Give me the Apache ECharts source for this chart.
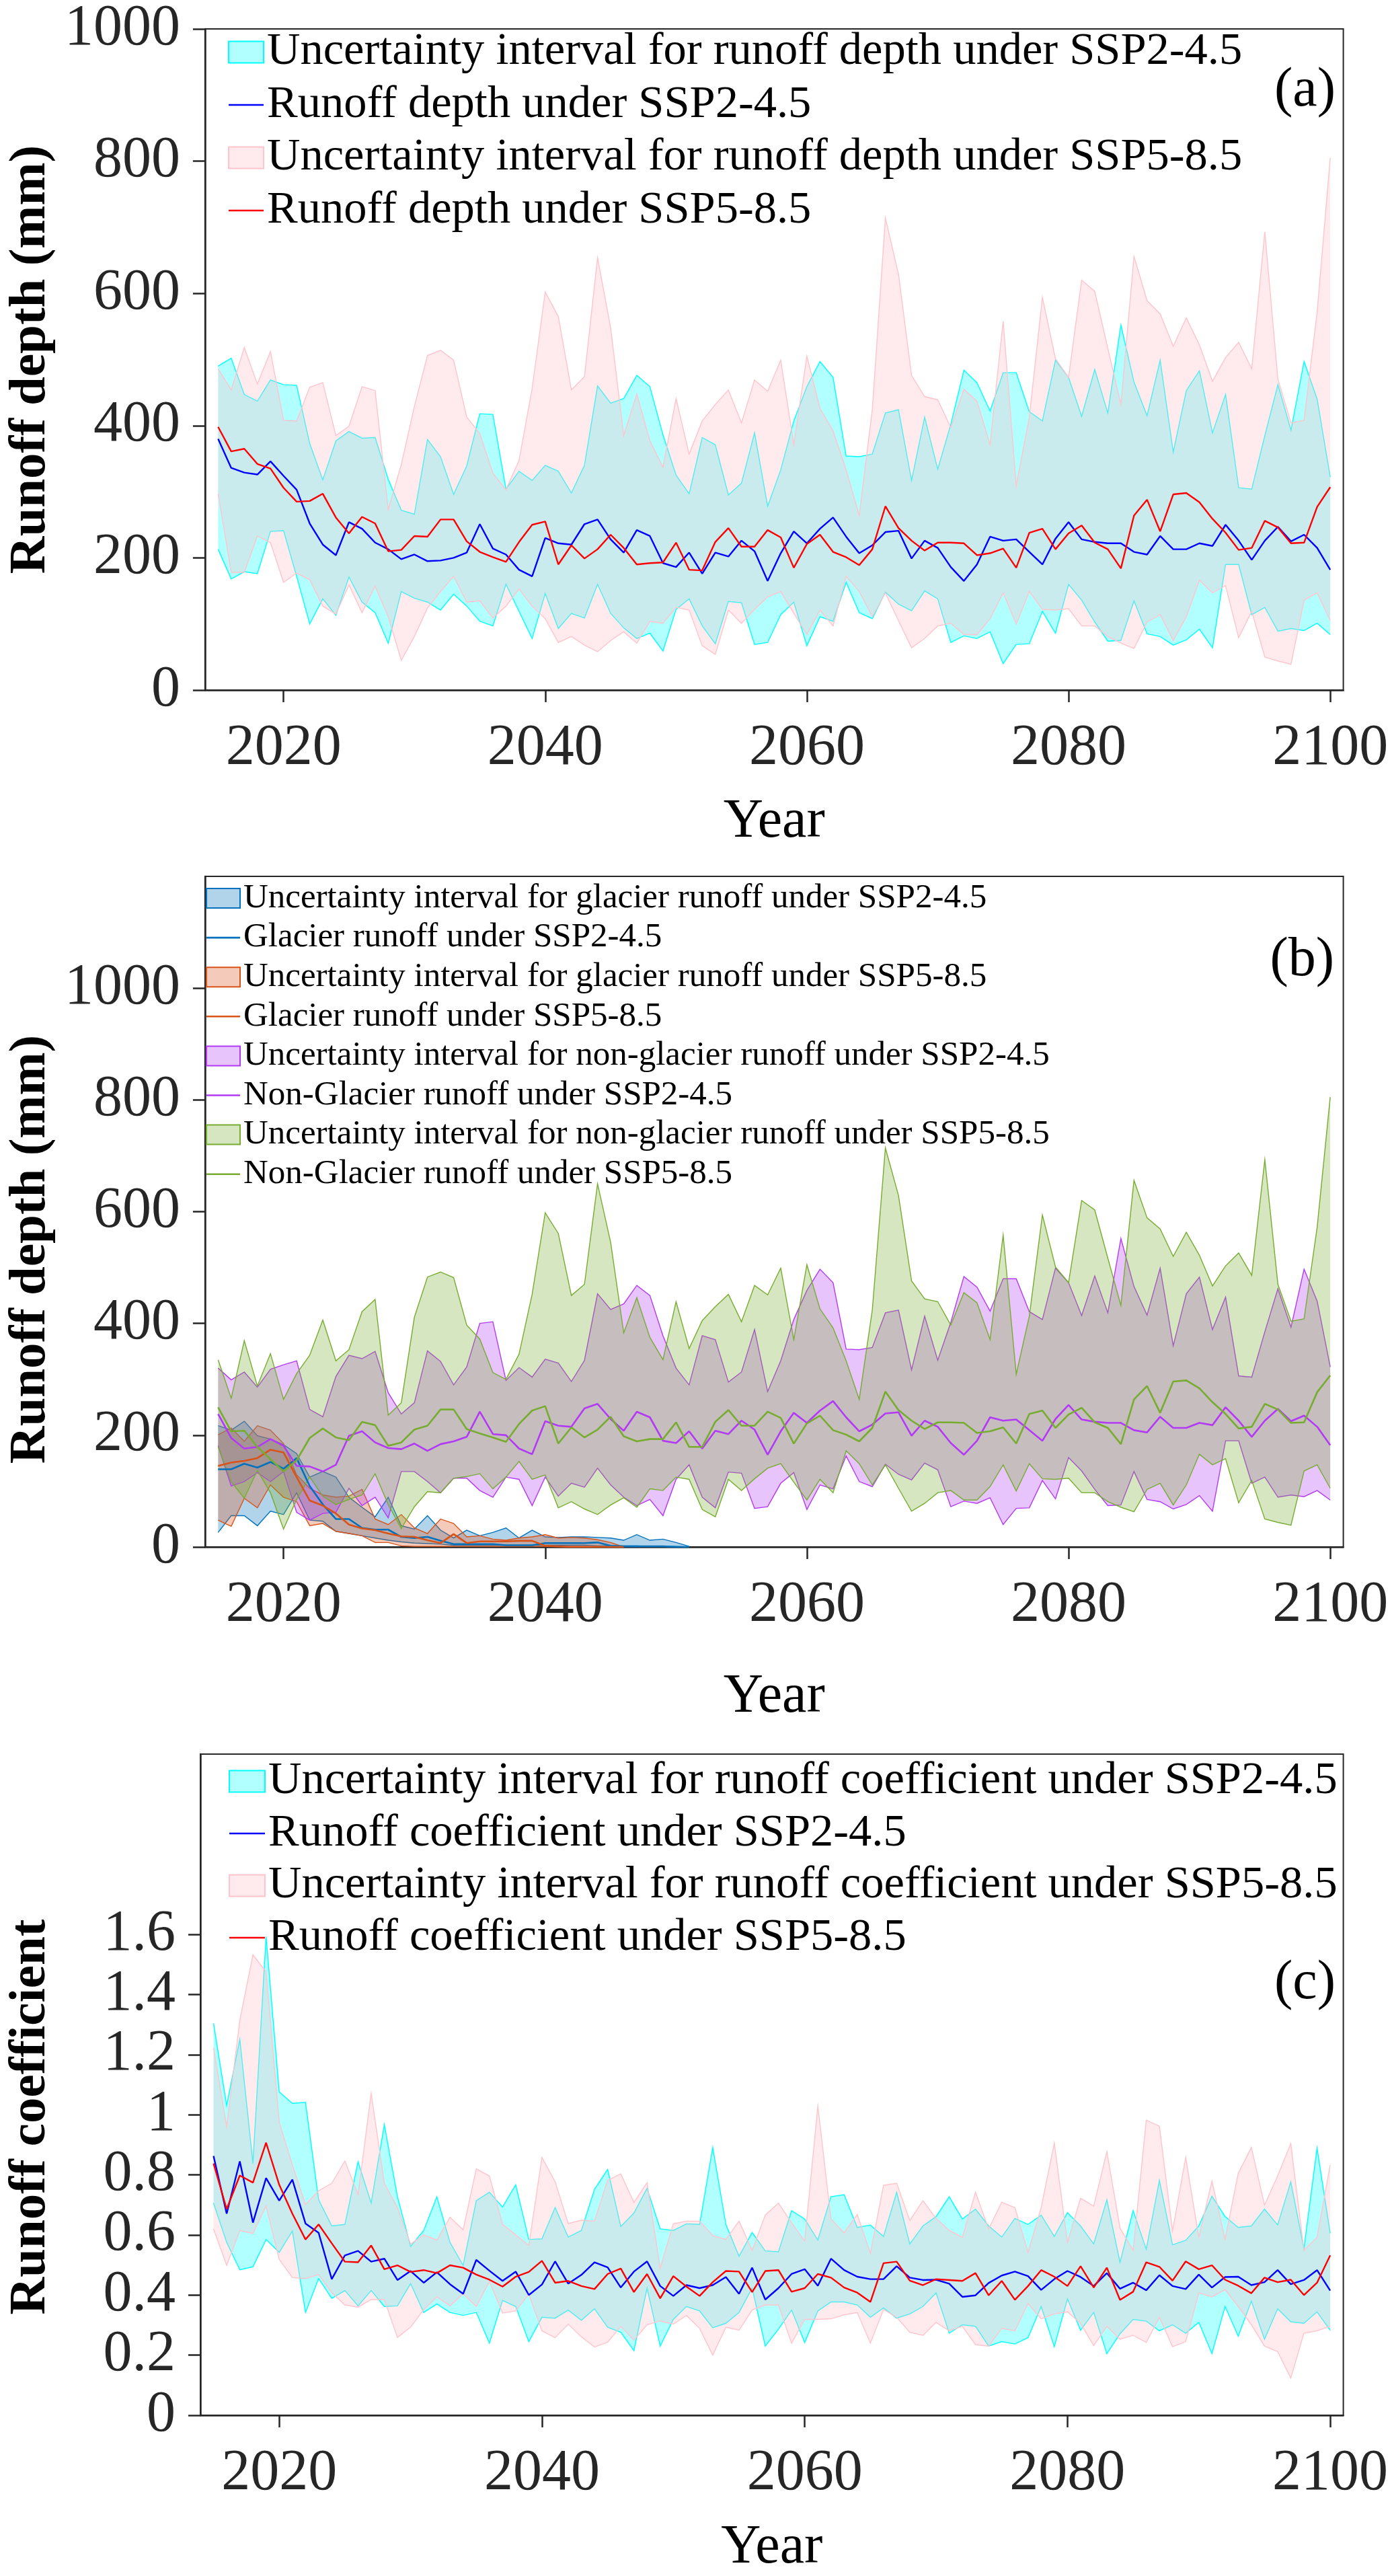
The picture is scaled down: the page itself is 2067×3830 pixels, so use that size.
<!DOCTYPE html>
<html><head><meta charset="utf-8">
<script src="https://cdn.jsdelivr.net/npm/echarts@6/dist/echarts.min.js"></script>
<style>html,body{margin:0;padding:0;background:#fff}#c{width:2067px;height:3830px}</style>
</head><body><div id="c"></div>
<script>
const years = [2015,2016,2017,2018,2019,2020,2021,2022,2023,2024,2025,2026,2027,2028,2029,2030,2031,2032,2033,2034,2035,2036,2037,2038,2039,2040,2041,2042,2043,2044,2045,2046,2047,2048,2049,2050,2051,2052,2053,2054,2055,2056,2057,2058,2059,2060,2061,2062,2063,2064,2065,2066,2067,2068,2069,2070,2071,2072,2073,2074,2075,2076,2077,2078,2079,2080,2081,2082,2083,2084,2085,2086,2087,2088,2089,2090,2091,2092,2093,2094,2095,2096,2097,2098,2099,2100];
const xTicks = [2020,2040,2060,2080,2100];
const yTicksA = [0,200,400,600,800,1000];
const yTicksB = [0,200,400,600,800,1000];
const yTicksC = [0,0.2,0.4,0.6,0.8,1,1.2,1.4,1.6];

// Panel (a): runoff depth (mm)
const aMean245 = [380,336,329,326,346,324,303,252,220,204,254,244,223,213,198,205,195,196,200,208,251,214,205,182,172,230,222,220,251,258,228,208,242,233,192,186,208,176,208,202,226,210,165,207,240,222,244,261,232,207,219,239,241,199,226,215,186,165,190,232,226,228,209,190,229,254,228,224,222,222,209,205,233,213,213,222,218,250,226,197,226,247,225,235,215,182];
const aUp245 = [490,502,447,437,469,462,461,373,318,377,391,381,382,319,272,266,379,353,296,339,418,417,304,331,317,340,331,298,340,460,434,441,476,459,386,325,297,382,371,295,313,389,278,333,407,459,497,473,354,353,357,419,424,317,413,334,402,484,465,422,480,480,421,407,499,473,414,485,419,552,466,415,499,360,453,483,389,447,306,304,385,462,393,497,440,322];
const aLo245 = [213,168,179,176,240,241,172,100,138,113,171,133,117,71,149,139,133,121,145,127,104,97,160,119,78,146,93,116,109,160,116,94,78,86,59,122,138,97,70,134,132,69,72,114,133,67,111,104,163,117,108,148,130,120,150,138,72,82,78,88,40,69,70,119,86,160,136,103,74,75,135,85,81,68,76,92,64,190,190,114,125,89,93,90,101,84];
const aMean585 = [398,361,365,342,335,306,285,286,297,261,237,262,252,210,212,233,232,258,258,225,209,201,194,224,250,255,190,219,199,213,235,215,190,192,193,223,182,181,224,245,217,217,242,231,185,221,235,209,201,189,213,278,245,226,211,223,223,222,204,207,214,185,238,244,213,237,249,223,213,184,264,288,240,296,298,284,259,238,212,215,256,246,222,223,277,307];
const aUp585 = [486,454,518,463,512,408,407,458,465,385,399,459,453,273,341,429,506,514,499,413,388,328,303,347,456,602,565,454,474,654,548,385,448,377,337,441,357,407,432,454,404,469,452,499,371,505,426,392,333,264,424,714,629,476,444,439,397,455,437,371,558,309,413,594,501,473,620,603,517,432,656,589,569,520,563,522,467,503,526,486,693,470,404,408,572,805];
const aLo585 = [297,178,178,233,223,163,177,167,127,115,159,117,157,111,45,81,124,149,172,133,135,109,127,153,127,108,72,81,68,58,75,88,71,104,101,125,121,67,54,121,101,122,141,149,116,84,121,97,172,149,111,147,105,64,78,97,101,84,84,108,147,100,149,122,121,123,97,97,81,71,63,103,114,75,111,166,147,158,79,119,50,44,39,136,147,105];

// Panel (b): glacier / non-glacier runoff (mm)
const bGlUp245 = [217,209,225,199,193,183,167,125,135,125,89,71,54,89,38,32,56,30,16,30,20,26,34,16,30,18,17,18,18,17,16,12,22,12,14,8,1];
const bGlLo245 = [26,56,56,38,64,58,97,48,46,28,24,20,16,12,9,7,6,5,3,3,3,3,3,3,3,3,3,3,3,2,2,2,2,1,1,1,0];
const bGl245   = [139,139,149,142,152,140,159,109,76,50,50,34,31,31,18,16,18,11,5,5,5,5,3,3,3,7,7,7,7,8,2,1,1,1,1,0,0];
const bGlUp585 = [201,213,189,217,209,185,129,105,93,89,91,103,50,40,58,34,24,50,42,18,20,14,12,16,18,22,16,17,16,13,8,0];
const bGlLo585 = [48,37,87,70,111,89,81,38,42,28,24,20,8,8,2,1,1,1,1,1,1,1,1,1,1,1,1,1,1,1,0,0];
const bGl585   = [145,151,154,159,174,169,125,83,74,60,40,33,30,24,19,18,12,7,23,7,10,10,10,11,11,2,1,0,0,0,0,0];
const bNg245   = [238,195,176,179,193,181,145,144,135,147,199,207,187,177,175,185,172,184,189,197,242,202,200,176,166,225,217,215,248,256,229,208,242,232,190,186,207,176,208,202,226,210,165,207,240,222,244,261,232,207,219,239,241,199,226,215,186,165,190,232,226,228,209,190,229,254,228,224,222,222,209,205,233,213,213,222,218,250,226,197,226,247,225,235,215,182];
const bNgUp245 = [320,299,313,286,318,326,333,246,233,305,343,337,350,276,238,258,351,332,290,322,400,403,298,321,304,336,329,296,334,453,425,435,468,450,378,320,290,378,371,295,313,389,278,333,407,459,497,473,354,353,357,419,424,317,413,334,402,484,465,422,480,480,421,407,499,473,414,485,419,552,466,415,499,360,453,483,389,447,306,304,385,462,393,497,440,322];
const bNgLo245 = [181,109,117,133,117,135,62,48,60,62,105,74,89,52,135,135,117,97,123,123,101,89,125,121,74,125,91,114,107,141,111,89,74,85,56,121,147,89,70,134,132,69,72,114,133,67,111,104,163,117,108,148,130,120,150,138,72,82,78,88,40,69,70,119,86,160,136,103,74,75,135,85,81,68,76,92,64,190,190,114,125,89,93,90,101,84];
const bNg585   = [250,207,208,179,157,135,155,195,212,196,191,224,218,181,187,210,217,246,246,211,203,196,188,220,244,252,185,214,196,210,233,198,189,193,193,223,179,179,224,245,217,217,242,231,185,221,235,209,201,189,213,278,245,226,211,223,223,222,204,207,214,185,238,244,213,237,249,223,213,184,264,288,240,296,298,284,259,238,212,215,256,246,222,223,277,307];
const bNgUp585 = [335,266,369,288,346,264,310,343,406,333,353,421,443,236,258,411,483,492,482,397,372,312,300,345,452,598,561,450,470,650,545,383,446,375,335,439,355,405,430,452,403,468,451,499,371,505,426,392,333,264,424,714,629,476,444,439,397,455,437,371,558,309,413,594,501,473,620,603,517,432,656,589,569,520,563,522,467,503,526,486,693,470,404,408,572,805];
const bNgLo585 = [179,117,87,137,97,32,85,125,91,76,85,93,131,76,33,72,99,97,123,126,131,104,125,153,121,129,70,81,68,58,75,88,71,104,101,125,121,67,54,121,101,122,141,149,116,84,121,97,172,149,111,147,105,64,78,97,101,84,84,108,147,100,149,122,121,123,97,97,81,71,63,103,114,75,111,166,147,158,79,119,50,44,39,136,147,105];

// Panel (c): runoff coefficient
const cMean245 = [0.863,0.671,0.845,0.641,0.789,0.714,0.784,0.638,0.607,0.453,0.532,0.547,0.511,0.521,0.450,0.480,0.441,0.476,0.436,0.404,0.517,0.481,0.447,0.478,0.400,0.435,0.512,0.438,0.467,0.509,0.492,0.425,0.478,0.512,0.430,0.397,0.433,0.423,0.433,0.460,0.404,0.491,0.385,0.423,0.470,0.486,0.431,0.521,0.483,0.461,0.453,0.453,0.496,0.458,0.450,0.451,0.438,0.394,0.399,0.440,0.465,0.478,0.463,0.417,0.453,0.480,0.460,0.430,0.473,0.421,0.441,0.416,0.466,0.430,0.420,0.468,0.425,0.460,0.461,0.433,0.443,0.483,0.436,0.450,0.483,0.415];
const cUp245 = [1.304,1.031,1.251,0.838,1.593,1.076,1.038,1.041,0.717,0.630,0.635,0.843,0.706,0.967,0.727,0.562,0.615,0.727,0.575,0.499,0.714,0.742,0.693,0.767,0.585,0.587,0.691,0.593,0.615,0.752,0.818,0.628,0.673,0.755,0.620,0.615,0.637,0.635,0.891,0.635,0.529,0.608,0.547,0.544,0.681,0.653,0.583,0.727,0.734,0.625,0.633,0.595,0.742,0.570,0.630,0.661,0.727,0.653,0.686,0.630,0.593,0.655,0.635,0.666,0.595,0.674,0.630,0.570,0.717,0.509,0.681,0.552,0.782,0.567,0.582,0.630,0.729,0.661,0.625,0.630,0.686,0.633,0.777,0.554,0.889,0.605];
const cLo245 = [0.706,0.575,0.484,0.494,0.585,0.542,0.613,0.342,0.455,0.389,0.415,0.364,0.415,0.362,0.364,0.438,0.342,0.370,0.342,0.332,0.342,0.240,0.382,0.362,0.245,0.326,0.323,0.350,0.316,0.354,0.293,0.276,0.215,0.423,0.230,0.319,0.362,0.347,0.291,0.306,0.342,0.423,0.230,0.286,0.350,0.242,0.347,0.377,0.377,0.367,0.326,0.357,0.323,0.337,0.362,0.407,0.273,0.301,0.296,0.230,0.245,0.237,0.258,0.362,0.228,0.387,0.283,0.342,0.205,0.271,0.319,0.313,0.281,0.301,0.273,0.309,0.205,0.362,0.263,0.380,0.253,0.354,0.311,0.306,0.344,0.283];
const cMean585 = [0.838,0.686,0.798,0.774,0.907,0.767,0.671,0.585,0.635,0.572,0.511,0.509,0.565,0.486,0.499,0.477,0.483,0.473,0.499,0.491,0.468,0.451,0.428,0.461,0.477,0.514,0.441,0.447,0.430,0.420,0.470,0.488,0.410,0.470,0.389,0.463,0.428,0.397,0.443,0.480,0.478,0.410,0.480,0.483,0.411,0.423,0.470,0.458,0.425,0.408,0.377,0.506,0.511,0.448,0.433,0.453,0.450,0.447,0.473,0.399,0.447,0.384,0.430,0.483,0.461,0.430,0.496,0.425,0.491,0.384,0.411,0.509,0.494,0.448,0.512,0.486,0.499,0.451,0.431,0.406,0.458,0.443,0.451,0.400,0.441,0.532];
const cUp585 = [1.223,0.960,1.314,1.532,1.476,0.975,0.833,0.701,0.747,0.772,0.846,0.734,1.071,0.772,0.691,0.570,0.600,0.583,0.659,0.617,0.820,0.796,0.635,0.600,0.565,0.858,0.777,0.638,0.649,0.646,0.782,0.803,0.708,0.774,0.489,0.637,0.646,0.646,0.598,0.585,0.646,0.549,0.666,0.706,0.641,0.580,1.029,0.653,0.607,0.668,0.539,0.765,0.772,0.648,0.714,0.655,0.615,0.592,0.742,0.620,0.709,0.691,0.542,0.691,0.906,0.575,0.722,0.696,0.877,0.623,0.549,0.982,0.962,0.613,0.858,0.592,0.779,0.585,0.805,0.891,0.699,0.796,0.904,0.549,0.592,0.833];
const cLo585 = [0.620,0.499,0.615,0.605,0.696,0.519,0.458,0.455,0.468,0.408,0.367,0.360,0.385,0.385,0.259,0.293,0.352,0.394,0.364,0.404,0.362,0.445,0.340,0.347,0.402,0.281,0.258,0.303,0.261,0.227,0.243,0.296,0.250,0.301,0.314,0.303,0.332,0.289,0.200,0.293,0.283,0.350,0.367,0.367,0.240,0.319,0.319,0.321,0.334,0.342,0.240,0.352,0.326,0.276,0.266,0.309,0.281,0.296,0.235,0.230,0.289,0.281,0.372,0.321,0.337,0.344,0.306,0.232,0.296,0.253,0.266,0.242,0.326,0.228,0.245,0.407,0.394,0.418,0.362,0.301,0.230,0.212,0.124,0.273,0.281,0.296];

const FONT = "'Liberation Serif','Times New Roman',serif";
const AX = '#262626';
const plain = v => String(+(+v).toFixed(1));

function val(arr, i) { return (i < arr.length && arr[i] != null) ? arr[i] : null; }

function band(name, idx, lo, up, fill, edge) {
  return {
    type: 'custom', name, xAxisIndex: idx, yAxisIndex: idx,
    data: years.map((y, i) => [y, val(lo, i), val(up, i)]),
    encode: { x: 0, y: [1, 2] },
    itemStyle: { color: fill, borderColor: edge },
    renderItem(params, api) {
      if (params.dataIndex !== 0) return null;
      const U = [], L = [];
      for (let i = 0; i < years.length; i++) {
        const u = val(up, i), l = val(lo, i);
        if (u == null || l == null) continue;
        U.push(api.coord([years[i], u]));
        L.push(api.coord([years[i], l]));
      }
      return { type: 'group', children: [
        { type: 'polygon', shape: { points: U.concat(L.slice().reverse()) }, style: { fill: fill } },
        { type: 'polyline', shape: { points: U }, style: { stroke: edge, lineWidth: 1.4, fill: 'none' } },
        { type: 'polyline', shape: { points: L }, style: { stroke: edge, lineWidth: 1.4, fill: 'none' } }
      ]};
    }
  };
}
function line(name, idx, arr, color, width) {
  return {
    type: 'line', name, xAxisIndex: idx, yAxisIndex: idx,
    data: years.map((y, i) => [y, val(arr, i)]),
    showSymbol: false, symbol: 'none', connectNulls: false,
    lineStyle: { color, width }, itemStyle: { color }
  };
}
function grid(top, height) {
  return { left: 293, top, width: 1709, height, show: true, borderColor: AX, borderWidth: 2, backgroundColor: 'transparent' };
}
function xAxis(idx, nameGap) {
  return {
    type: 'value', gridIndex: idx, min: 2014, max: 2101,
    axisLine: { show: true, onZero: false, lineStyle: { color: AX, width: 2.5 } },
    axisTick: { show: true, customValues: xTicks, length: 18, lineStyle: { color: AX, width: 2.5 } },
    axisLabel: { customValues: xTicks, fontSize: 86, fontFamily: FONT, color: AX, margin: 44, formatter: plain },
    splitLine: { show: false },
    name: 'Year', nameLocation: 'middle', nameGap,
    nameTextStyle: { fontSize: 82, fontFamily: FONT, color: '#000' }
  };
}
function yAxis(idx, max, ticks, name, pad) {
  return {
    type: 'value', gridIndex: idx, min: 0, max,
    axisLine: { show: true, onZero: false, lineStyle: { color: AX, width: 2.5 } },
    axisTick: { show: true, customValues: ticks, length: 18, lineStyle: { color: AX, width: 2.5 } },
    axisLabel: { customValues: ticks, fontSize: 86, fontFamily: FONT, color: AX, margin: 37, formatter: plain },
    splitLine: { show: false },
    name, nameLocation: 'middle', nameGap: 213,
    nameTextStyle: { fontSize: 77, fontWeight: 'bold', fontFamily: FONT, color: '#000', padding: [0, pad, 0, 0] }
  };
}
function lineIcon(w) { return 'path://M0,0L' + w + ',0L' + w + ',2.6L0,2.6Z'; }
function rectItem(name, fill, edge) { return { name, icon: 'rect', itemStyle: { color: fill, borderColor: edge, borderWidth: 2 } }; }
function lineItem(name, color, w) { return { name, icon: lineIcon(w), itemStyle: { color, borderWidth: 0 } }; }

const CY_F = 'rgba(0,255,255,0.3)', CY_E = '#00ffff';
const PK_F = 'rgba(255,192,203,0.32)', PK_E = '#ffc4cc';
const BL = '#0072BD', OR = '#D95319', PU = '#B23AF5', GR = '#77AC30';
const BL_F = 'rgba(0,114,189,0.3)', OR_F = 'rgba(217,83,25,0.3)', PU_F = 'rgba(178,58,245,0.3)', GR_F = 'rgba(119,172,48,0.3)';

const nA = ['Uncertainty interval for runoff depth under SSP2-4.5','Runoff depth under SSP2-4.5','Uncertainty interval for runoff depth under SSP5-8.5','Runoff depth under SSP5-8.5'];
const nB = ['Uncertainty interval for glacier runoff under SSP2-4.5','Glacier runoff under SSP2-4.5','Uncertainty interval for glacier runoff under SSP5-8.5','Glacier runoff under SSP5-8.5','Uncertainty interval for non-glacier runoff under SSP2-4.5','Non-Glacier runoff under SSP2-4.5','Uncertainty interval for non-glacier runoff under SSP5-8.5','Non-Glacier runoff under SSP5-8.5'];
const nC = ['Uncertainty interval for runoff coefficient under SSP2-4.5','Runoff coefficient under SSP2-4.5','Uncertainty interval for runoff coefficient under SSP5-8.5','Runoff coefficient under SSP5-8.5'];

const legendBase = { orient: 'vertical', padding: 0, selectedMode: false };
const option = {
  animation: false,
  backgroundColor: '#fff',
  grid: [grid(27.5, 998.5), grid(1303, 997), grid(2608, 996)],
  xAxis: [xAxis(0, 155), xAxis(1, 182), xAxis(2, 156)],
  yAxis: [
    yAxis(0, 1000, yTicksA, 'Runoff depth (mm)', 0),
    yAxis(1, 1200, yTicksB, 'Runoff depth (mm)', 112),
    yAxis(2, 2.2, yTicksC, 'Runoff coefficient', 96)
  ],
  legend: [
    Object.assign({}, legendBase, { left: 339, top: 43, itemWidth: 52, itemHeight: 32, itemGap: 9.5,
      textStyle: { fontSize: 68.5, lineHeight: 68.5, fontFamily: FONT, color: '#000' },
      data: [rectItem(nA[0], CY_F, CY_E), lineItem(nA[1], '#0000ff', 52), rectItem(nA[2], PK_F, PK_E), lineItem(nA[3], '#ff0000', 52)] }),
    Object.assign({}, legendBase, { left: 306, top: 1310, itemWidth: 50, itemHeight: 29, itemGap: 7.6,
      textStyle: { fontSize: 51, lineHeight: 51, fontFamily: FONT, color: '#000' },
      data: [rectItem(nB[0], BL_F, BL), lineItem(nB[1], BL, 50), rectItem(nB[2], OR_F, OR), lineItem(nB[3], OR, 50),
             rectItem(nB[4], PU_F, PU), lineItem(nB[5], PU, 50), rectItem(nB[6], GR_F, GR), lineItem(nB[7], GR, 50)] }),
    Object.assign({}, legendBase, { left: 340, top: 2614, itemWidth: 53, itemHeight: 32, itemGap: 8.5,
      textStyle: { fontSize: 68.5, lineHeight: 68.5, fontFamily: FONT, color: '#000' },
      data: [rectItem(nC[0], CY_F, CY_E), lineItem(nC[1], '#0000ff', 53), rectItem(nC[2], PK_F, PK_E), lineItem(nC[3], '#ff0000', 53)] })
  ],
  graphic: [
    { type: 'text', right: 81, top: 94, style: { text: '(a)', fontSize: 82, fontFamily: FONT, fill: '#000' } },
    { type: 'text', right: 83, top: 1387, style: { text: '(b)', fontSize: 82, fontFamily: FONT, fill: '#000' } },
    { type: 'text', right: 81, top: 2908, style: { text: '(c)', fontSize: 82, fontFamily: FONT, fill: '#000' } }
  ],
  series: [
    band(nA[0], 0, aLo245, aUp245, CY_F, CY_E),
    line(nA[1], 0, aMean245, '#0000ff', 2.4),
    band(nA[2], 0, aLo585, aUp585, PK_F, PK_E),
    line(nA[3], 0, aMean585, '#ff0000', 2.4),

    band(nB[0], 1, bGlLo245, bGlUp245, BL_F, BL),
    line(nB[1], 1, bGl245, BL, 2.6),
    band(nB[2], 1, bGlLo585, bGlUp585, OR_F, OR),
    line(nB[3], 1, bGl585, OR, 2.6),
    band(nB[4], 1, bNgLo245, bNgUp245, PU_F, PU),
    line(nB[5], 1, bNg245, PU, 2.6),
    band(nB[6], 1, bNgLo585, bNgUp585, GR_F, GR),
    line(nB[7], 1, bNg585, GR, 2.6),

    band(nC[0], 2, cLo245, cUp245, CY_F, CY_E),
    line(nC[1], 2, cMean245, '#0000ff', 2.4),
    band(nC[2], 2, cLo585, cUp585, PK_F, PK_E),
    line(nC[3], 2, cMean585, '#ff0000', 2.4)
  ]
};
const chart = echarts.init(document.getElementById('c'), null, { renderer: 'canvas' });
chart.setOption(option);
</script></body></html>
